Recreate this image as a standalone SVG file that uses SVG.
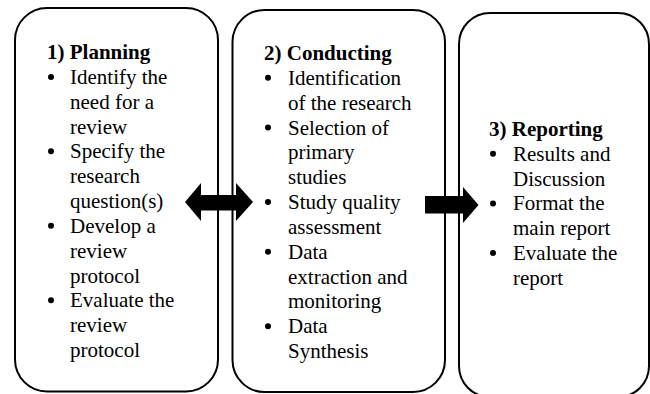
<svg xmlns="http://www.w3.org/2000/svg" width="650" height="394" viewBox="0 0 650 394">
  <style>
    .box { fill: #ffffff; stroke: #000000; stroke-width: 2; }
    .arrow { fill: #000000; stroke: none; }
    .dot { fill: #000000; }
    text { font-family: "Liberation Serif", "Times New Roman", serif; font-size: 21px; fill: #000000; }
    .title { font-weight: bold; }
  </style>
  <defs>
    <circle id="bullet" class="dot" cx="0" cy="0" r="3"/>
  </defs>

  <rect x="0" y="0" width="650" height="394" fill="#ffffff"/>

  <!-- Phase 1 -->
  <g id="planning">
    <rect class="box" x="15" y="8" width="203" height="383.5" rx="32" ry="32"/>
    <text class="title" x="47" y="59">1) Planning</text>
    <use href="#bullet" x="51" y="77"/><text x="70" y="84">Identify the</text>
    <text x="70" y="108.7">need for a</text>
    <text x="70" y="133.5">review</text>
    <use href="#bullet" x="51" y="151.3"/><text x="70" y="158.3">Specify the</text>
    <text x="70" y="183.2">research</text>
    <text x="70" y="208">question(s)</text>
    <use href="#bullet" x="51" y="225.8"/><text x="70" y="232.8">Develop a</text>
    <text x="70" y="257.7">review</text>
    <text x="70" y="282.5">protocol</text>
    <use href="#bullet" x="51" y="300.3"/><text x="70" y="307.3">Evaluate the</text>
    <text x="70" y="332.2">review</text>
    <text x="70" y="357">protocol</text>
  </g>

  <!-- Phase 2 -->
  <g id="conducting">
    <rect class="box" x="232.5" y="10" width="212.5" height="382" rx="32" ry="32"/>
    <text class="title" x="264" y="60">2) Conducting</text>
    <use href="#bullet" x="268" y="77.8"/><text x="288" y="84.8">Identification</text>
    <text x="288" y="109.7">of the research</text>
    <use href="#bullet" x="268" y="127.5"/><text x="288" y="134.5">Selection of</text>
    <text x="288" y="159.3">primary</text>
    <text x="288" y="184.2">studies</text>
    <use href="#bullet" x="268" y="202"/><text x="288" y="209">Study quality</text>
    <text x="288" y="233.8">assessment</text>
    <use href="#bullet" x="268" y="251.7"/><text x="288" y="258.7">Data</text>
    <text x="288" y="283.5">extraction and</text>
    <text x="288" y="308.3">monitoring</text>
    <use href="#bullet" x="268" y="326.2"/><text x="288" y="333.2">Data</text>
    <text x="288" y="358">Synthesis</text>
  </g>

  <!-- Phase 3 -->
  <g id="reporting">
    <rect class="box" x="459" y="13" width="190" height="384" rx="31" ry="31"/>
    <text class="title" x="489" y="136">3) Reporting</text>
    <use href="#bullet" x="493" y="153.8"/><text x="513" y="160.8">Results and</text>
    <text x="513" y="185.6">Discussion</text>
    <use href="#bullet" x="493" y="203.4"/><text x="513" y="210.4">Format the</text>
    <text x="513" y="235.2">main report</text>
    <use href="#bullet" x="493" y="253"/><text x="513" y="260">Evaluate the</text>
    <text x="513" y="284.8">report</text>
  </g>

  <!-- Block arrows between phases -->
  <g id="connectors">
    <path class="arrow" d="M185,202 L201,183 L201,195 L236,195 L236,183 L253,202 L236,221 L236,210.5 L201,210.5 L201,221 Z"/>
    <path class="arrow" d="M425,196 L463,196 L463,187 L478.5,205 L463,223 L463,213.5 L425,213.5 Z"/>
  </g>
</svg>
